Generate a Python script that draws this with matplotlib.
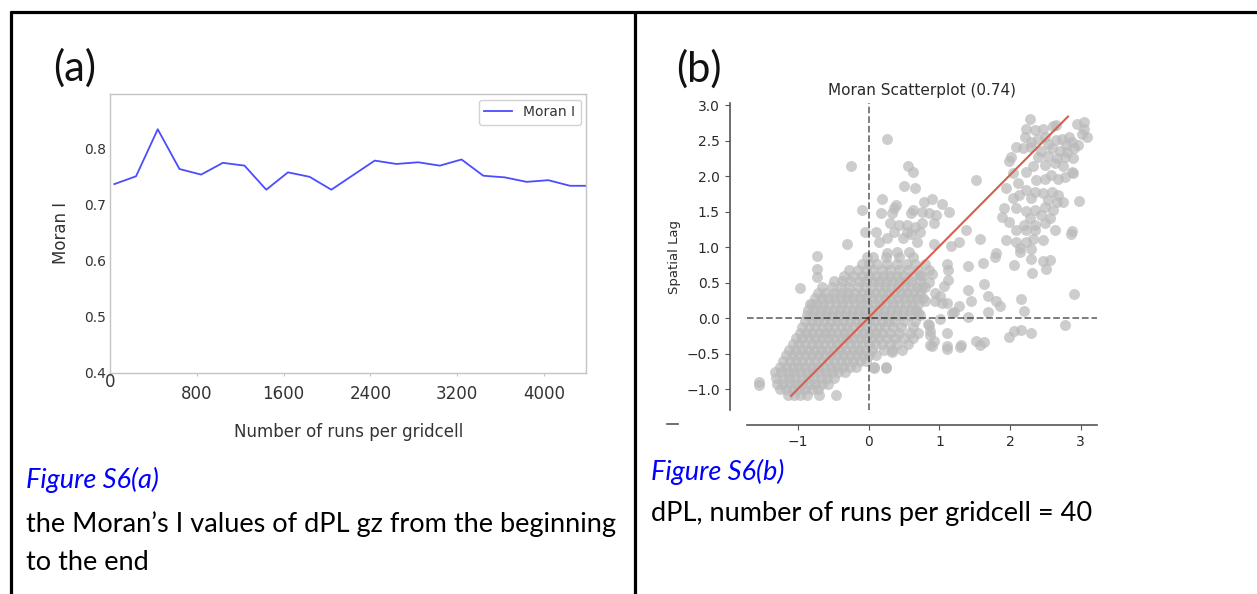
import matplotlib
matplotlib.use("Agg")
import matplotlib.pyplot as plt
from matplotlib.lines import Line2D

W, H = 1257, 594


def fx(x):
    return x / W


def fy(y):
    return 1 - y / H


# ---- panel (a): Moran's I vs number of runs ----
runs = [40, 240, 440, 640, 840, 1040, 1240, 1440, 1640, 1840, 2040, 2240,
        2440, 2640, 2840, 3040, 3240, 3440, 3640, 3840, 4040, 4240, 4440]
moran_i = [0.737, 0.751, 0.835, 0.764, 0.754, 0.775, 0.770, 0.727, 0.758,
           0.750, 0.727, 0.753, 0.779, 0.773, 0.776, 0.770, 0.781, 0.752,
           0.749, 0.741, 0.744, 0.734, 0.734]
a_xticks = [0, 800, 1600, 2400, 3200, 4000]
a_yticks = [0.4, 0.5, 0.6, 0.7, 0.8]

# ---- panel (b): Moran scatterplot ----
# dense band around the origin, read row by row (y value, x positions)
dense_y = [-1.08, -1.00, -0.92, -0.84, -0.76, -0.68, -0.60, -0.52, -0.44,
           -0.36, -0.28, -0.20, -0.12, -0.04, 0.04, 0.12, 0.20, 0.28, 0.36,
           0.44, 0.52, 0.60, 0.68, 0.76, 0.86]
dense_x = [
    [-1.15, -1.06, -0.97, -0.88, -0.70, -0.46],
    [-1.26, -1.17, -1.08, -0.99, -0.90, -0.81, -0.72],
    [-1.30, -1.21, -1.12, -1.03, -0.94, -0.85, -0.76, -0.67, -0.58],
    [-1.31, -1.22, -1.13, -1.04, -0.95, -0.86, -0.77, -0.68, -0.59, -0.50],
    [-1.33, -1.24, -1.15, -1.06, -0.97, -0.88, -0.79, -0.70, -0.61, -0.52, -0.43, -0.34],
    [-1.26, -1.17, -1.08, -0.99, -0.90, -0.81, -0.72, -0.63, -0.54, -0.45, -0.36, -0.27,
     -0.18, 0.07, 0.24],
    [-1.21, -1.12, -1.03, -0.94, -0.85, -0.76, -0.67, -0.58, -0.49, -0.40, -0.31, -0.22,
     -0.13, -0.04],
    [-1.17, -1.08, -0.99, -0.90, -0.81, -0.72, -0.63, -0.54, -0.45, -0.36, -0.27, -0.18,
     -0.09, 0.00, 0.10],
    [-1.13, -1.04, -0.95, -0.86, -0.77, -0.68, -0.59, -0.50, -0.41, -0.32, -0.23, -0.14,
     -0.05, 0.04, 0.22, 0.33, 0.47],
    [-1.08, -0.99, -0.90, -0.81, -0.72, -0.63, -0.54, -0.45, -0.36, -0.27, -0.18, -0.09,
     0.00, 0.09, 0.18, 0.30, 0.40, 0.55],
    [-1.03, -0.94, -0.85, -0.76, -0.67, -0.58, -0.49, -0.40, -0.31, -0.22, -0.13, -0.04,
     0.05, 0.14, 0.25, 0.37, 0.50, 0.62],
    [-0.98, -0.89, -0.80, -0.71, -0.62, -0.53, -0.44, -0.35, -0.26, -0.17, -0.08, 0.01,
     0.10, 0.19, 0.30, 0.42, 0.58, 0.70],
    [-0.94, -0.85, -0.76, -0.67, -0.58, -0.49, -0.40, -0.31, -0.22, -0.13, -0.04, 0.05,
     0.14, 0.23, 0.34, 0.46, 0.62],
    [-0.90, -0.81, -0.72, -0.63, -0.54, -0.45, -0.36, -0.27, -0.18, -0.09, 0.00, 0.09,
     0.18, 0.27, 0.36, 0.50, 0.66],
    [-0.88, -0.79, -0.70, -0.61, -0.52, -0.43, -0.34, -0.25, -0.16, -0.07, 0.02, 0.11,
     0.20, 0.29, 0.38, 0.47, 0.58, 0.72],
    [-0.86, -0.77, -0.68, -0.59, -0.50, -0.41, -0.32, -0.23, -0.14, -0.05, 0.04, 0.13,
     0.22, 0.31, 0.40, 0.49, 0.58, 0.67],
    [-0.83, -0.74, -0.65, -0.56, -0.47, -0.38, -0.29, -0.20, -0.11, -0.02, 0.07, 0.16,
     0.25, 0.34, 0.43, 0.52, 0.61, 0.70],
    [-0.76, -0.67, -0.58, -0.49, -0.40, -0.31, -0.22, -0.13, -0.04, 0.05, 0.14, 0.23,
     0.32, 0.41, 0.50, 0.59, 0.68, 0.76],
    [-0.72, -0.62, -0.50, -0.40, -0.30, -0.20, -0.10, 0.00, 0.09, 0.18, 0.27, 0.36,
     0.45, 0.54, 0.63, 0.72],
    [-0.66, -0.52, -0.40, -0.28, -0.16, -0.05, 0.05, 0.14, 0.23, 0.32, 0.41, 0.50,
     0.59, 0.68, 0.80],
    [-0.50, -0.38, -0.26, -0.14, -0.04, 0.06, 0.15, 0.24, 0.33, 0.42, 0.51, 0.60, 0.72],
    [-0.35, -0.22, -0.10, 0.00, 0.10, 0.20, 0.30, 0.40, 0.50, 0.62, 0.75],
    [-0.28, -0.15, -0.04, 0.06, 0.18, 0.30, 0.42, 0.55, 0.70, 0.85],
    [-0.10, 0.00, 0.12, 0.26, 0.40, 0.54, 0.66, 0.80],
    [-0.03, 0.06, 0.24, 0.42, 0.62],
]

# high-high cluster (upper right)
upper_right_pts = [
    (2.28, 2.80), (2.23, 2.67), (2.35, 2.65), (2.47, 2.67), (2.61, 2.71), (2.65, 2.72),
    (2.94, 2.74), (3.04, 2.76), (3.05, 2.67), (3.09, 2.55), (3.02, 2.60),
    (2.21, 2.55), (2.30, 2.48), (2.40, 2.53), (2.50, 2.55), (2.53, 2.46), (2.65, 2.51),
    (2.74, 2.53), (2.84, 2.55), (2.88, 2.48), (2.79, 2.44), (2.96, 2.44),
    (2.09, 2.41), (2.18, 2.39), (2.30, 2.41), (2.44, 2.36), (2.59, 2.39), (2.70, 2.36),
    (2.81, 2.34), (2.91, 2.39), (2.01, 2.27), (2.40, 2.27), (2.54, 2.29), (2.66, 2.25),
    (2.77, 2.27), (2.89, 2.25), (1.99, 2.22), (2.32, 2.15), (2.49, 2.16), (2.63, 2.19),
    (2.75, 2.15), (2.04, 2.04), (2.23, 2.06), (2.37, 1.94), (2.49, 1.96), (2.58, 2.01),
    (2.68, 1.96), (2.77, 1.99), (2.89, 2.05), (1.94, 1.83), (2.11, 1.90), (2.23, 1.81),
    (2.35, 1.78), (2.47, 1.76), (2.59, 1.78), (2.68, 1.74), (2.13, 1.74), (2.04, 1.69),
    (2.30, 1.69), (2.54, 1.66), (2.66, 1.64), (2.75, 1.64), (2.97, 1.65), (1.92, 1.55),
    (2.09, 1.55), (2.23, 1.51), (2.35, 1.53), (2.49, 1.57), (2.61, 1.53), (1.89, 1.43),
    (2.28, 1.41), (2.44, 1.45), (2.56, 1.41), (1.99, 1.36), (2.20, 1.32), (2.35, 1.32),
    (2.49, 1.34), (2.09, 1.24), (2.23, 1.24), (2.35, 1.24), (2.63, 1.24), (2.87, 1.23),
    (2.86, 1.19), (1.94, 1.10), (2.09, 1.08), (2.23, 1.08), (2.32, 1.12), (2.47, 1.10),
    (2.14, 0.99), (2.30, 0.97), (1.80, 0.92), (2.88, 2.06),
]

# scattered points right of the band (x 0.7 .. 3)
mid_pts = [
    (1.79, 0.87), (2.14, 0.93), (2.30, 0.84), (2.47, 0.81), (2.56, 0.82), (2.51, 0.70),
    (2.31, 0.64), (2.05, 0.75), (1.62, 0.78), (1.40, 0.74), (1.11, 0.76), (1.12, 0.68),
    (1.12, 0.54), (1.63, 0.49), (1.40, 0.40), (1.69, 0.31), (1.80, 0.24), (1.85, 0.17),
    (2.16, 0.27), (2.19, 0.10), (2.91, 0.34), (1.69, 0.09), (1.44, 0.25), (1.28, 0.18),
    (1.21, 0.09), (1.40, 0.02), (1.11, 0.21), (1.01, 0.32), (0.94, 0.25), (1.01, -0.01),
    (0.85, -0.09), (0.87, -0.18), (0.92, -0.32), (0.87, -0.37), (1.11, -0.20),
    (1.11, -0.39), (1.30, -0.37), (1.51, -0.32), (1.63, -0.33), (1.99, -0.26),
    (2.05, -0.18), (2.15, -0.17), (2.29, -0.21), (2.77, -0.10), (0.73, 0.61),
    (0.85, 0.51), (0.75, 0.44), (0.94, 0.35), (1.04, 0.21), (0.80, 0.25), (0.70, 0.07),
    (0.90, 0.63), (1.06, 0.46), (1.18, 0.08), (0.84, -0.08),
]

# scattered points above the band (y 0.9 .. 2.55)
upper_mid_pts = [
    (0.25, 2.53), (-0.25, 2.15), (0.55, 2.14), (0.62, 2.06), (0.50, 1.86), (0.65, 1.84),
    (0.19, 1.68), (0.39, 1.59), (0.36, 1.55), (-0.10, 1.53), (0.17, 1.48), (0.33, 1.48),
    (0.59, 1.48), (0.63, 1.52), (0.30, 1.34), (0.43, 1.31), (0.54, 1.31), (0.66, 1.29),
    (-0.05, 1.21), (0.10, 1.21), (0.14, 1.08), (0.26, 1.13), (0.35, 1.22), (0.49, 1.13),
    (0.59, 1.18), (0.68, 1.08), (-0.31, 1.05), (-0.74, 0.88), (-0.73, 0.69),
    (-0.74, 0.58), (-0.98, 0.43), (-0.81, 0.20), (0.26, 0.92), (0.40, 0.94), (0.57, 0.94),
    (0.78, 1.64), (0.89, 1.68), (1.03, 1.61), (1.13, 1.49), (0.75, 1.50), (0.85, 1.48),
    (0.95, 1.46), (0.75, 1.34), (0.92, 1.34), (0.73, 1.22), (1.37, 1.24), (1.58, 1.12),
    (1.28, 1.08), (1.16, 1.02), (0.92, 1.04), (1.51, 1.94), (0.54, 1.21),
]

# isolated low points
low_pts = [
    (-1.55, -0.89), (-1.55, -0.94), (0.07, -0.70), (0.24, -0.70), (0.33, -0.47),
    (1.58, -0.37), (1.29, -0.41), (1.11, -0.43), (0.90, -0.39), (0.87, -0.23),
]

fit_x = [-1.10, 2.82]
fit_y = [-1.09, 2.84]

# collect scatter values
lag_x, lag_y = [], []
for yv, row in zip(dense_y, dense_x):
    for xv in row:
        lag_x.append(xv)
        lag_y.append(yv)
for pts in (upper_right_pts, mid_pts, upper_mid_pts, low_pts):
    for xv, yv in pts:
        lag_x.append(xv)
        lag_y.append(yv)

fig = plt.figure(figsize=(W / 100, H / 100), dpi=100)
fig.patch.set_facecolor("white")

# table borders
border = dict(color="black", lw=2.3, transform=fig.transFigure, solid_capstyle="butt")
fig.add_artist(Line2D([fx(10), fx(W)], [fy(12), fy(12)], **border))
fig.add_artist(Line2D([fx(11), fx(11)], [fy(11), fy(H)], **border))
fig.add_artist(Line2D([fx(635), fx(635)], [fy(11), fy(H)], **border))

# ---- (a) ----
ax_a = fig.add_axes([fx(110), fy(372.7), fx(586.3) - fx(110), fy(94) - fy(372.7)])
ax_a.plot(runs, moran_i, color="blue", alpha=0.7, lw=1.3, label="Moran I")
ax_a.set_xlim(0, 4390)
ax_a.set_ylim(0.4, 0.898)
ax_a.set_xticks(a_xticks)
ax_a.set_xticklabels([""] + [str(t) for t in a_xticks[1:]])
ax_a.set_yticks(a_yticks)
ax_a.set_yticklabels([f"{t:.1f}" for t in a_yticks])
for sp in ax_a.spines.values():
    sp.set_color("#c4c4c4")
    sp.set_linewidth(1.0)
ax_a.tick_params(axis="x", colors="#c4c4c4", length=2.5, pad=6.5, labelsize=12,
                 labelcolor="#333333")
ax_a.tick_params(axis="y", length=0, pad=3, labelsize=10, labelcolor="#333333")
ax_a.annotate("0", xy=(0, 0.4), xytext=(0, -6.5), textcoords="offset points",
              ha="center", va="center", fontsize=12, color="#333333")
ax_a.set_xlabel("Number of runs per gridcell", fontsize=12, color="#333333", labelpad=14)
ax_a.set_ylabel("Moran I", fontsize=12, color="#333333", labelpad=10)
leg = ax_a.legend(loc="upper right", fontsize=10, handlelength=2.0, borderaxespad=0.4,
                  fancybox=True)
leg.get_frame().set_edgecolor("#c8c8c8")
for t in leg.get_texts():
    t.set_color("#333333")

fig.text(fx(53), fy(68), "(a)", fontsize=30, family=["Lato", "DejaVu Sans"],
         ha="left", va="center", color="#111111")

# ---- (b) ----
ax_b = fig.add_axes([fx(747), fy(410), fx(1097) - fx(747), fy(103) - fy(410)])
ax_b.scatter(lag_x, lag_y, s=62, color="#bababa", alpha=0.72, linewidths=0)
ax_b.plot(fit_x, fit_y, color="#d6604d", lw=1.5)
ax_b.axvline(0, color="black", alpha=0.55, ls="--", lw=1.3)
ax_b.axhline(0, color="black", alpha=0.55, ls="--", lw=1.3)
ax_b.set_xlim(-1.725, 3.23)
ax_b.set_ylim(-1.29, 3.03)
ax_b.set_xticks([-1, 0, 1, 2, 3])
ax_b.set_yticks([-1.0, -0.5, 0.0, 0.5, 1.0, 1.5, 2.0, 2.5, 3.0])
ax_b.spines["left"].set_position(("axes", -0.05))
ax_b.spines["bottom"].set_position(("axes", -0.05))
ax_b.spines["top"].set_visible(False)
ax_b.spines["right"].set_visible(False)
for sp in ("left", "bottom"):
    ax_b.spines[sp].set_color("#555555")
    ax_b.spines[sp].set_linewidth(1.2)
ax_b.tick_params(colors="#555555", labelsize=10, labelcolor="#2a2a2a")
ax_b.set_title("Moran Scatterplot (0.74)", fontsize=11, color="#2a2a2a")
ax_b.set_ylabel("Spatial Lag", fontsize=9.5, color="#2a2a2a")

# stray dash at the left of the x axis
fig.add_artist(Line2D([fx(667), fx(678)], [fy(424), fy(424)], color="#555555", lw=1.2,
                      transform=fig.transFigure))

fig.text(fx(676), fy(69), "(b)", fontsize=30, family=["Lato", "DejaVu Sans"],
         ha="left", va="center", color="#111111")

# ---- captions ----
cap = dict(fontsize=19.5, family=["Lato", "DejaVu Sans"], ha="left", va="center")
fig.text(fx(26), fy(480), "Figure S6(a)", color="blue", style="italic", **cap)
fig.text(fx(26), fy(524), "the Moran\u2019s I values of dPL gz from the beginning",
         color="black", **cap)
fig.text(fx(26), fy(563), "to the end", color="black", **cap)
fig.text(fx(651), fy(472), "Figure S6(b)", color="blue", style="italic", **cap)
fig.text(fx(651), fy(513), "dPL, number of runs per gridcell = 40", color="black", **cap)

fig.savefig("out.png", dpi=100, facecolor="white")
